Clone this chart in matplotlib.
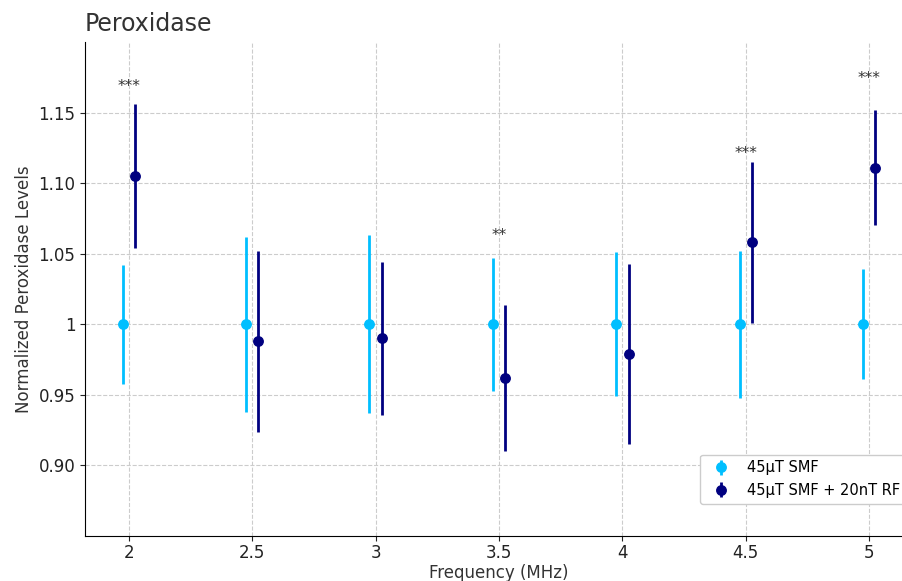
import matplotlib

matplotlib.use("Agg")

import matplotlib.pyplot as plt

# data
frequencies = [2.0, 2.5, 3.0, 3.5, 4.0, 4.5, 5.0]
smf_mean = [1.0, 1.0, 1.0, 1.0, 1.0, 1.0, 1.0]
smf_err = [0.042, 0.062, 0.063, 0.047, 0.051, 0.052, 0.039]
rf_mean = [1.105, 0.988, 0.990, 0.962, 0.979, 1.058, 1.111]
rf_err = [0.051, 0.064, 0.054, 0.052, 0.064, 0.057, 0.041]
significance = ["***", "", "", "**", "", "***", "***"]

x_tick_labels = ["2", "2.5", "3", "3.5", "4", "4.5", "5"]
y_ticks = [0.90, 0.95, 1.00, 1.05, 1.10, 1.15]
y_tick_labels = ["0.90", "0.95", "1", "1.05", "1.10", "1.15"]

offset = 0.025
smf_color = "#00BFFF"
rf_color = "#000080"

fig = plt.figure(figsize=(9.02, 5.81), dpi=100)
ax = fig.add_axes([85 / 902, 1 - 536 / 581, 828 / 902, 494 / 581])

ax.errorbar(
    [f - offset for f in frequencies],
    smf_mean,
    yerr=smf_err,
    fmt="o",
    color=smf_color,
    ecolor=smf_color,
    elinewidth=2,
    markersize=6.8,
    label="45µT SMF",
)
ax.errorbar(
    [f + offset for f in frequencies],
    rf_mean,
    yerr=rf_err,
    fmt="o",
    color=rf_color,
    ecolor=rf_color,
    elinewidth=2,
    markersize=6.8,
    label="45µT SMF + 20nT RF",
)

# stars sit a fixed distance above the higher of the two means
for freq, m1, m2, stars in zip(frequencies, smf_mean, rf_mean, significance):
    if stars:
        ax.text(freq, max(m1, m2) + 0.06, stars, ha="center", va="baseline", fontsize=11, color="#333333")

ax.set_xlim(1.8225, 5.1775)
ax.set_ylim(0.85, 1.20)
ax.set_xticks(frequencies)
ax.set_xticklabels(x_tick_labels)
ax.set_yticks(y_ticks)
ax.set_yticklabels(y_tick_labels)
ax.tick_params(labelsize=12, colors="#222222")
ax.tick_params(axis="x", pad=2.5)

ax.set_title("Peroxidase", loc="left", fontsize=17, color="#333333", pad=8)
ax.set_xlabel("Frequency (MHz)", fontsize=12, color="#333333", labelpad=1.5)
ax.set_ylabel("Normalized Peroxidase Levels", fontsize=12, color="#333333")

ax.grid(True, linestyle="--", color="#cccccc", linewidth=0.8)
ax.set_axisbelow(True)
ax.spines["top"].set_visible(False)
ax.spines["right"].set_visible(False)

ax.legend(loc="lower right", bbox_to_anchor=(1.0, 0.051), fontsize=10.5, framealpha=1, edgecolor="#cccccc")

fig.savefig("out.png", dpi=100)
plt.close(fig)
